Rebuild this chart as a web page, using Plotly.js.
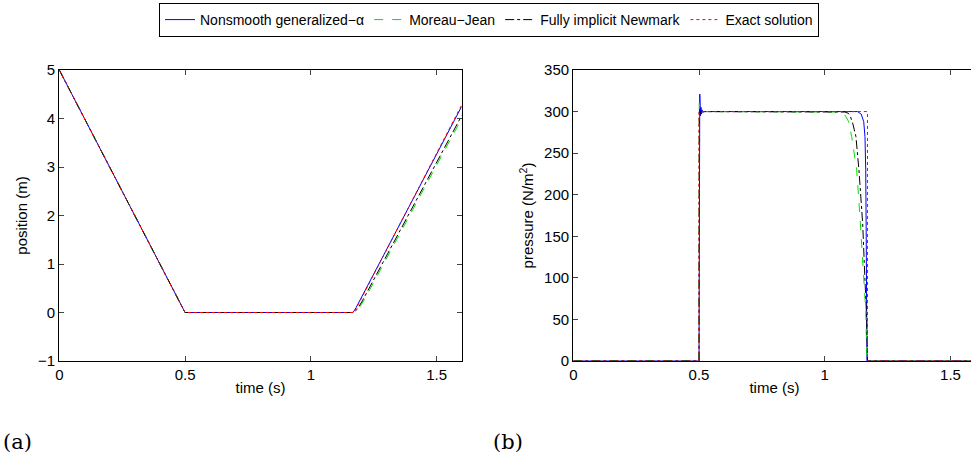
<!DOCTYPE html>
<html>
<head>
<meta charset="utf-8">
<script src="https://cdn.plot.ly/plotly-3.0.1.min.js"></script>
<style>
html,body{margin:0;padding:0;overflow:hidden;background:#fff;}
#chart{width:985px;height:460px;}
</style>
</head>
<body>
<div id="chart"></div>
<script>
// ---- data ----
const seriesNames = ["Nonsmooth generalized\u2212\u03b1", "Moreau\u2212Jean", "Fully implicit Newmark", "Exact solution"];

// (a) position vs time
const posBlueT  = [0, 0.5, 1.168, 1.175, 1.18, 1.6];
const posBlueY  = [5, 0, 0, 0.05, 0.10, 4.25];
const posGreenT = [0, 0.5, 1.165, 1.18, 1.19, 1.20, 1.21, 1.22, 1.6];
const posGreenY = [5, 0, 0, 0.03, 0.08, 0.15, 0.24, 0.33, 4.0];
const posBlackT = [0, 0.5, 1.165, 1.175, 1.185, 1.195, 1.205, 1.6];
const posBlackY = [5, 0, 0, 0.02, 0.07, 0.15, 0.24, 4.06];
const posExactT = [0, 0.5, 1.172, 1.6];
const posExactY = [5, 0, 0, 4.28];

// (b) pressure vs time
const prBlueT  = [0, 0.5, 0.503, 0.506, 0.508, 0.510, 0.512, 0.515, 0.52, 1.13, 1.145, 1.155, 1.16, 1.163, 1.165, 1.167, 1.168, 1.6];
const prBlueY  = [0, 0, 321, 295, 305, 297, 302, 299, 300, 300, 297, 288, 270, 230, 150, 50, 0, 0];
const prGreenT = [0, 0.5, 0.501, 0.504, 0.508, 1.06, 1.08, 1.095, 1.107, 1.127, 1.14, 1.151, 1.163, 1.168, 1.6];
const prGreenY = [0, 0, 310, 298, 300, 299.5, 296, 288, 270, 230, 174, 125, 61, 0, 0];
const prBlackT = [0, 0.5, 0.501, 0.505, 0.51, 1.08, 1.093, 1.10, 1.112, 1.124, 1.136, 1.144, 1.151, 1.16, 1.167, 1.17, 1.6];
const prBlackY = [0, 0, 303, 299, 300, 299.5, 298, 296, 285, 270, 230, 200, 165, 97, 50, 0, 0];
const prExactT = [0, 0.5, 0.5, 1.17, 1.17, 1.6];
const prExactY = [0, 0, 300, 300, 0, 0];

const xTicks = [0, 0.5, 1, 1.5];
const xTickText = ["0", "0.5", "1", "1.5"];
const posTicks = [-1, 0, 1, 2, 3, 4, 5];
const prTicks = [0, 50, 100, 150, 200, 250, 300, 350];

// ---- styling ----
const colors = ["#0000ff", "#00e000", "#000000", "#ff0000"];
const dashes = ["solid", "dash", "dashdot", "dot"];

function tr(x, y, i, xa, ya, show) {
  return {x: x, y: y, type: "scatter", mode: "lines", name: seriesNames[i],
    xaxis: xa, yaxis: ya, showlegend: show,
    line: {color: colors[i], width: 1, dash: dashes[i]}};
}

const data = [
  tr(posBlueT, posBlueY, 0, "x", "y", true),
  tr(posGreenT, posGreenY, 1, "x", "y", true),
  tr(posBlackT, posBlackY, 2, "x", "y", true),
  tr(posExactT, posExactY, 3, "x", "y", true),
  tr(prBlueT, prBlueY, 0, "x2", "y2", false),
  tr(prGreenT, prGreenY, 1, "x2", "y2", false),
  tr(prBlackT, prBlackY, 2, "x2", "y2", false),
  tr(prExactT, prExactY, 3, "x2", "y2", false)
];

const W = 985, H = 460;
const font = {family: "Liberation Sans, Arial, sans-serif", size: 15, color: "#000"};
function xax(d0, d1, anchor) {
  return {domain: [d0 / W, d1 / W], anchor: anchor, range: [0, 1.6],
    tickvals: xTicks, ticktext: xTickText, ticks: "inside", ticklen: 5,
    showline: true, mirror: "ticks", linecolor: "#000", linewidth: 1.2,
    showgrid: false, zeroline: false, tickfont: font,
    title: {text: "time (s)", font: font, standoff: 0}};
}
function yax(vals, rng, title, anchor) {
  return {domain: [1 - 361 / H, 1 - 70 / H], anchor: anchor, range: rng,
    tickvals: vals, ticks: "inside", ticklen: 5,
    showline: true, mirror: "ticks", linecolor: "#000", linewidth: 1.2,
    showgrid: false, zeroline: false, tickfont: font,
    title: {text: title, font: font, standoff: 6}};
}

const layout = {
  width: W, height: H,
  margin: {l: 0, r: 0, t: 0, b: 0},
  paper_bgcolor: "#fff", plot_bgcolor: "#fff",
  font: font,
  showlegend: true,
  legend: {orientation: "h", x: 489 / W, xanchor: "center", y: 1 - 3 / H, yanchor: "top",
    bordercolor: "#000", borderwidth: 1, font: {family: font.family, size: 14, color: "#000"},
    itemwidth: 30, tracegroupgap: 0},
  xaxis: xax(59.3, 461.7, "y"),
  yaxis: yax(posTicks, [-1, 5], "position (m)", "x"),
  xaxis2: xax(573.3, 975.6, "y2"),
  yaxis2: yax(prTicks, [0, 350], "pressure (N/m<sup>2</sup>)", "x2"),
  annotations: [
    {text: "(a)", xref: "paper", yref: "paper", x: 1 / W, y: 1 - 442 / H, xanchor: "left", yanchor: "middle",
     showarrow: false, font: {family: "DejaVu Serif, Liberation Serif, serif", size: 21, color: "#000"}},
    {text: "(b)", xref: "paper", yref: "paper", x: 491 / W, y: 1 - 442 / H, xanchor: "left", yanchor: "middle",
     showarrow: false, font: {family: "DejaVu Serif, Liberation Serif, serif", size: 21, color: "#000"}}
  ]
};

Plotly.newPlot("chart", data, layout, {displayModeBar: false, staticPlot: true});
</script>
</body>
</html>
